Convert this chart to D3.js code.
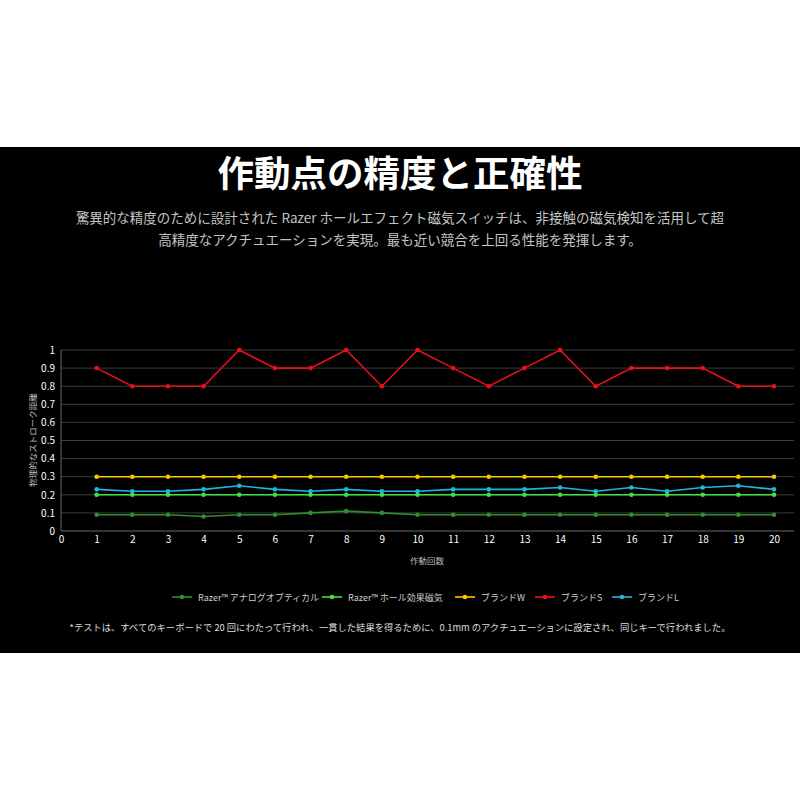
<!DOCTYPE html>
<html lang="ja">
<head>
<meta charset="UTF-8">
<title>作動点の精度と正確性</title>
<script src="https://cdn.jsdelivr.net/npm/d3@7/dist/d3.min.js"></script>
<style>
    body { margin: 0; background: #fff; }
    svg { font-family: "Noto Sans CJK JP", "Noto Sans", sans-serif; }
</style>
</head>
<body>
<div id="chart"></div>
<script>
// data
var strokes = d3.range(1, 21);
var xTicks = d3.range(0, 21);
var yTicks = [0, 0.1, 0.2, 0.3, 0.4, 0.5, 0.6, 0.7, 0.8, 0.9, 1];

var seriesNames = ["Razer™ アナログオプティカル", "Razer™ ホール効果磁気", "ブランドW", "ブランドS", "ブランドL"];
var seriesColors = ["#2f8f2f", "#3fe33f", "#ffc400", "#e8101a", "#1fb8d8"];

var analogOptical = [0.09, 0.09, 0.09, 0.08, 0.09, 0.09, 0.10, 0.11, 0.10, 0.09, 0.09, 0.09, 0.09, 0.09, 0.09, 0.09, 0.09, 0.09, 0.09, 0.09];
var hallEffect    = [0.2, 0.2, 0.2, 0.2, 0.2, 0.2, 0.2, 0.2, 0.2, 0.2, 0.2, 0.2, 0.2, 0.2, 0.2, 0.2, 0.2, 0.2, 0.2, 0.2];
var brandW        = [0.3, 0.3, 0.3, 0.3, 0.3, 0.3, 0.3, 0.3, 0.3, 0.3, 0.3, 0.3, 0.3, 0.3, 0.3, 0.3, 0.3, 0.3, 0.3, 0.3];
var brandS        = [0.9, 0.8, 0.8, 0.8, 1.0, 0.9, 0.9, 1.0, 0.8, 1.0, 0.9, 0.8, 0.9, 1.0, 0.8, 0.9, 0.9, 0.9, 0.8, 0.8];
var brandL        = [0.23, 0.22, 0.22, 0.23, 0.25, 0.23, 0.22, 0.23, 0.22, 0.22, 0.23, 0.23, 0.23, 0.24, 0.22, 0.24, 0.22, 0.24, 0.25, 0.23];

var seriesValues = [analogOptical, hallEffect, brandW, brandS, brandL];

var width = 800, height = 800;

var svg = d3.select("#chart").append("svg")
    .attr("width", width)
    .attr("height", height);

// black band
svg.append("rect")
    .attr("x", 0).attr("y", 147)
    .attr("width", width).attr("height", 506)
    .attr("fill", "#000");

// title + subtitle
svg.append("text")
    .attr("x", 400).attr("y", 187)
    .attr("text-anchor", "middle")
    .attr("fill", "#fff")
    .attr("font-size", 36.5)
    .attr("font-weight", "bold")
    .text("作動点の精度と正確性");

var subLines = [
    "驚異的な精度のために設計された Razer ホールエフェクト磁気スイッチは、非接触の磁気検知を活用して超",
    "高精度なアクチュエーションを実現。最も近い競合を上回る性能を発揮します。"
];
svg.selectAll(".sub").data(subLines).enter().append("text")
    .attr("class", "sub")
    .attr("x", 400)
    .attr("y", function(d, i) { return 223 + i * 22; })
    .attr("text-anchor", "middle")
    .attr("fill", "#c4c4c4")
    .attr("font-size", 13.5)
    .text(function(d) { return d; });

// scales
var x = d3.scaleLinear().domain([0, 20]).range([61, 774]);
var y = d3.scaleLinear().domain([0, 1]).range([531, 350]);

// grid
svg.append("g")
    .selectAll("line")
    .data(yTicks)
    .enter().append("line")
    .attr("x1", 61).attr("x2", 794)
    .attr("y1", function(d) { return y(d); })
    .attr("y2", function(d) { return y(d); })
    .attr("stroke", function(d) { return d === 0 ? "#666" : "#3c3c3c"; })
    .attr("stroke-width", 1);

svg.append("line")
    .attr("x1", 61).attr("x2", 61)
    .attr("y1", y(1)).attr("y2", y(0))
    .attr("stroke", "#666");

// axes
var yAxis = svg.append("g")
    .attr("transform", "translate(61,0)")
    .call(d3.axisLeft(y).tickValues(yTicks).tickSize(0).tickPadding(6).tickFormat(d3.format("~g")));
var xAxis = svg.append("g")
    .attr("transform", "translate(0,531)")
    .call(d3.axisBottom(x).tickValues(xTicks).tickSize(0).tickPadding(5).tickFormat(d3.format("d")));

[xAxis, yAxis].forEach(function(a) {
    a.select(".domain").remove();
    a.selectAll("text")
        .attr("fill", "#fff")
        .attr("font-size", 10)
        .attr("font-family", "'Noto Sans CJK JP', sans-serif");
});

svg.append("text")
    .attr("x", 427).attr("y", 564)
    .attr("text-anchor", "middle")
    .attr("fill", "#bbb")
    .attr("font-size", 8.5)
    .text("作動回数");

svg.append("text")
    .attr("transform", "translate(36,440) rotate(-90)")
    .attr("text-anchor", "middle")
    .attr("fill", "#bbb")
    .attr("font-size", 8.5)
    .text("物理的なストローク距離");

// lines
var line = d3.line()
    .x(function(d, i) { return x(strokes[i]); })
    .y(function(d) { return y(d); });

seriesValues.forEach(function(vals, k) {
    var g = svg.append("g");
    g.append("path")
        .datum(vals)
        .attr("d", line)
        .attr("fill", "none")
        .attr("stroke", seriesColors[k])
        .attr("stroke-width", 1.6);
    g.selectAll("circle")
        .data(vals)
        .enter().append("circle")
        .attr("cx", function(d, i) { return x(strokes[i]); })
        .attr("cy", function(d) { return y(d); })
        .attr("r", 2.3)
        .attr("fill", seriesColors[k]);
});

// legend
var legendX = [172, 322, 455, 535, 612];
var legend = svg.append("g").selectAll("g")
    .data(seriesNames)
    .enter().append("g")
    .attr("transform", function(d, i) { return "translate(" + legendX[i] + ",597)"; });
legend.append("line")
    .attr("x1", 0).attr("x2", 20)
    .attr("stroke", function(d, i) { return seriesColors[i]; })
    .attr("stroke-width", 1.6);
legend.append("circle")
    .attr("cx", 10).attr("r", 2.3)
    .attr("fill", function(d, i) { return seriesColors[i]; });
legend.append("text")
    .attr("x", 26).attr("y", 3.5)
    .attr("fill", "#ccc")
    .attr("font-size", 9)
    .text(function(d) { return d; });

// footnote
svg.append("text")
    .attr("x", 400).attr("y", 631)
    .attr("text-anchor", "middle")
    .attr("fill", "#ddd")
    .attr("font-size", 9.3)
    .text("*テストは、すべてのキーボードで 20 回にわたって行われ、一貫した結果を得るために、0.1mm のアクチュエーションに設定され、同じキーで行われました。");
</script>
</body>
</html>
